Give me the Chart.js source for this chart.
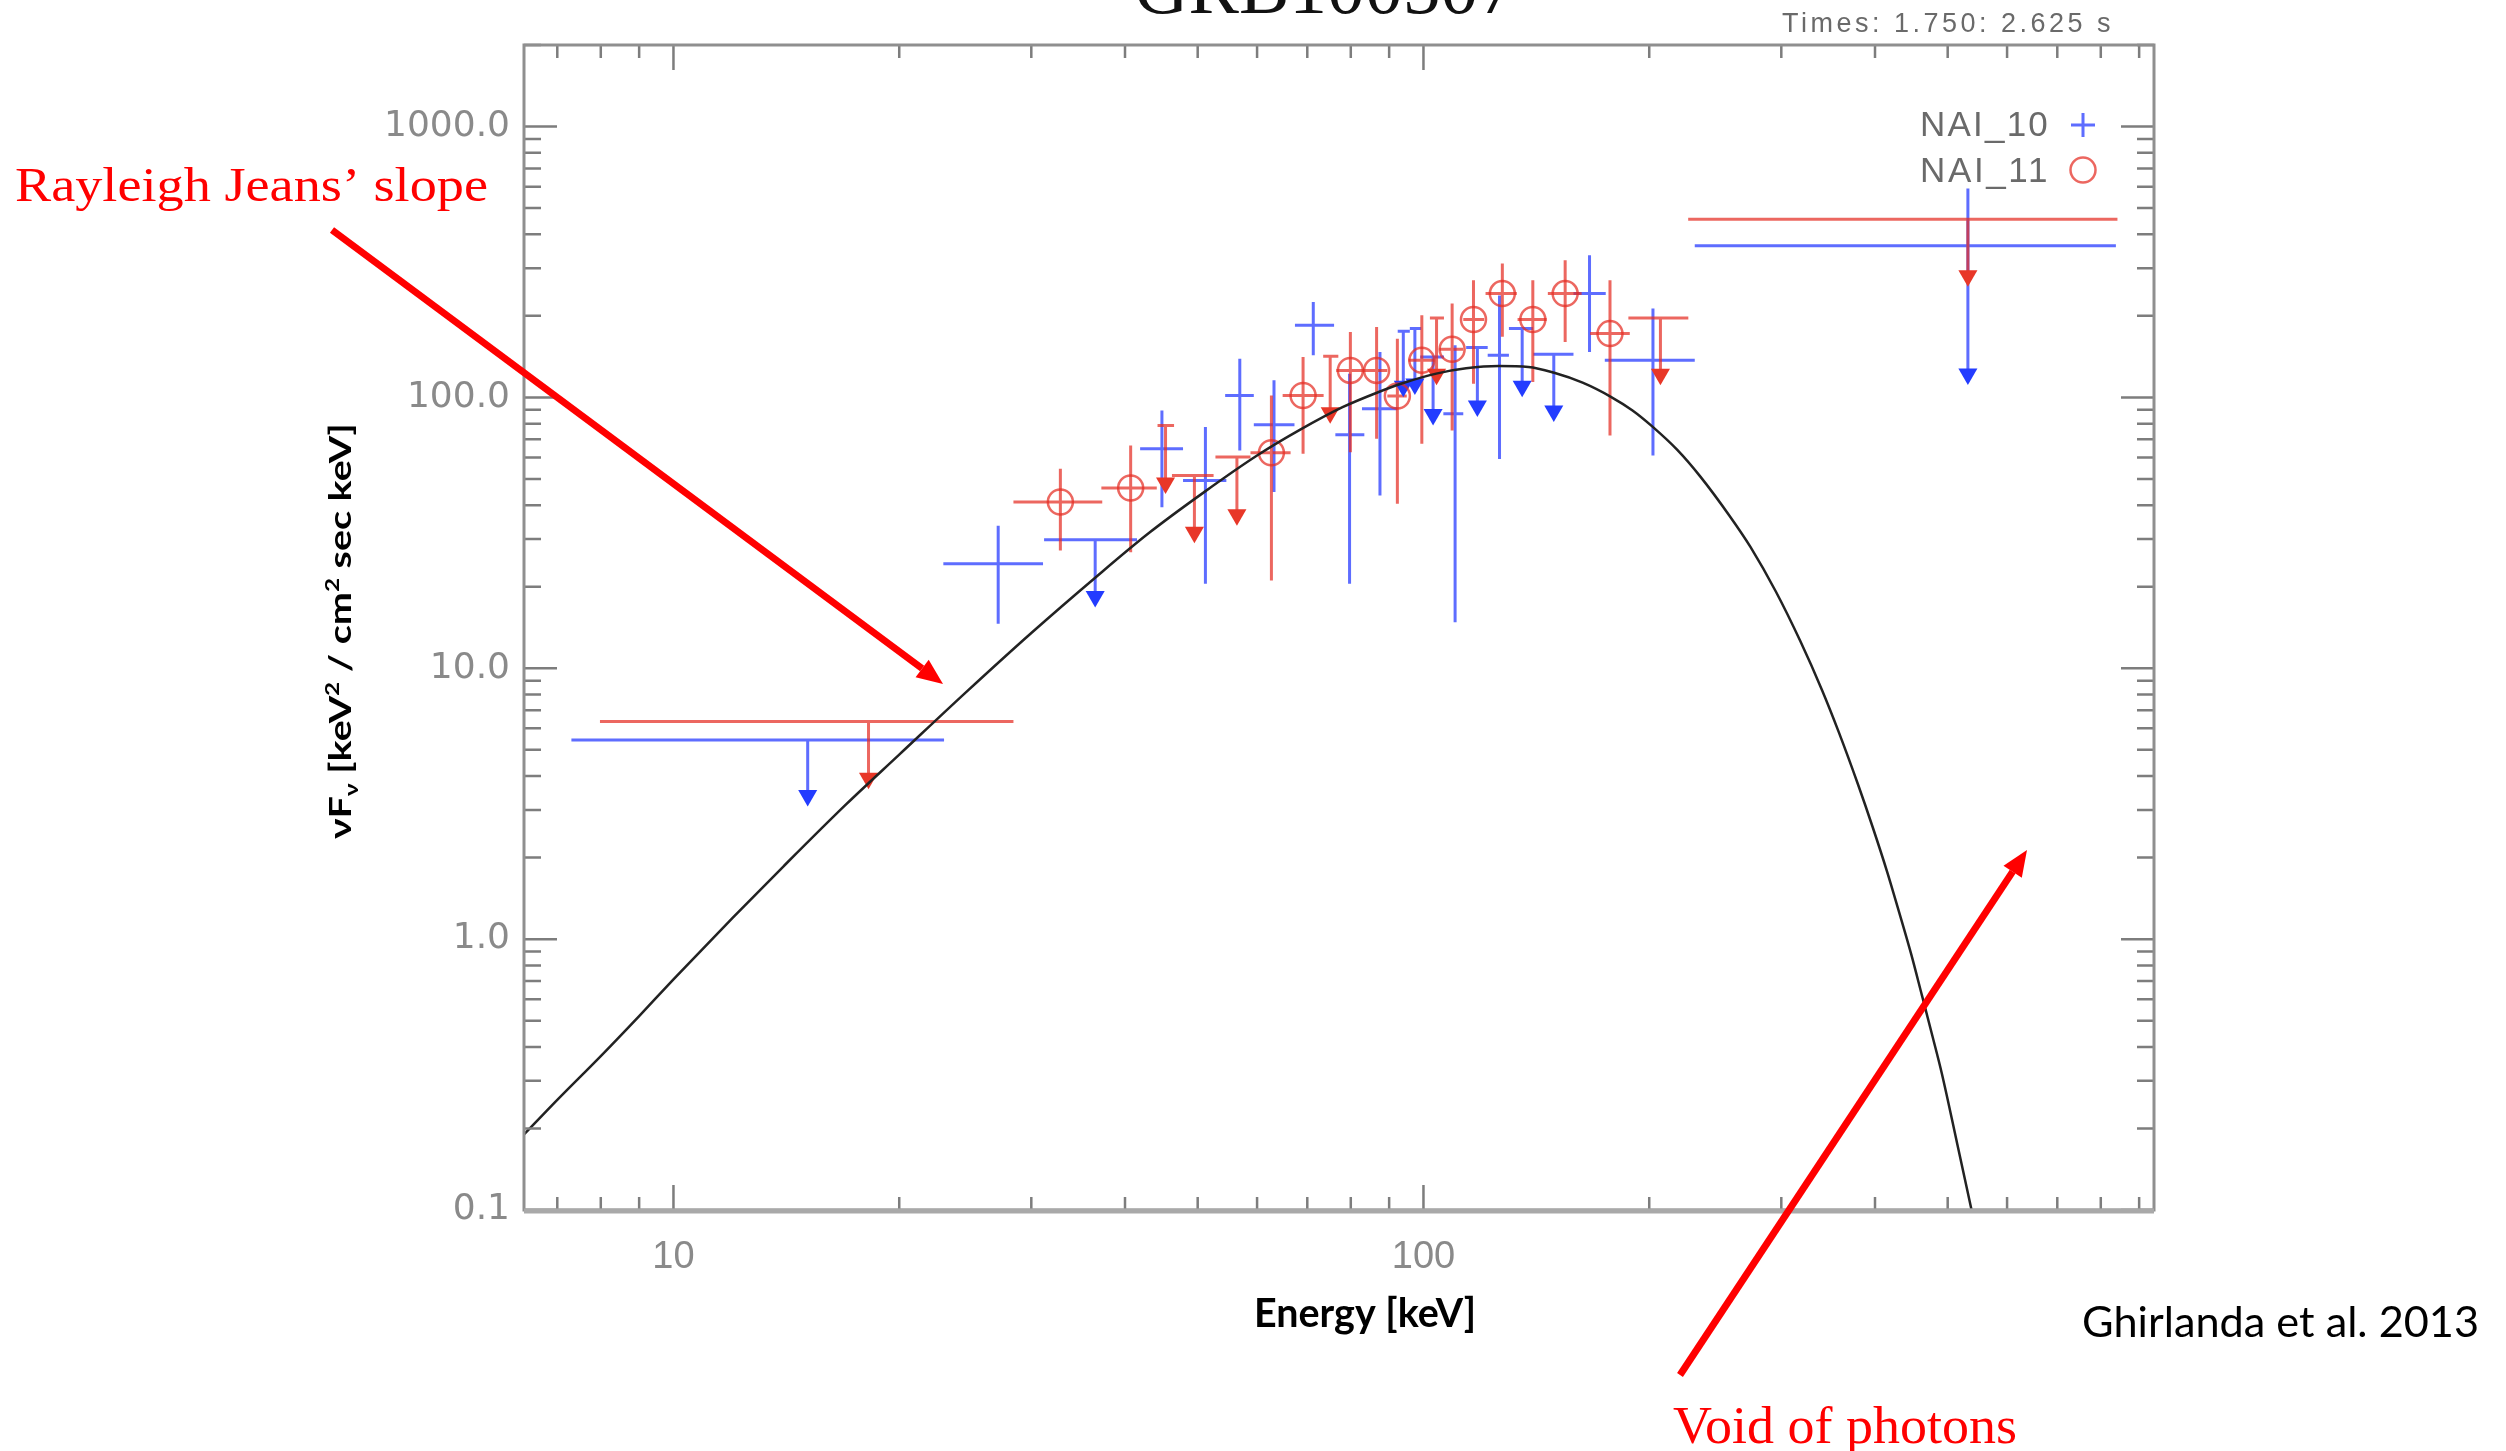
<!DOCTYPE html>
<html>
<head>
<meta charset="utf-8">
<title>GRB100507</title>
<script src="https://cdn.jsdelivr.net/npm/chart.js@4.4.1/dist/chart.umd.min.js"></script>
<style>
  html, body { margin: 0; padding: 0; background: #fff; }
  #wrap { position: relative; width: 2506px; height: 1451px; overflow: hidden; }
  canvas { display: block; }
</style>
</head>
<body>
<div id="wrap"><canvas id="spec" width="2506" height="1451" style="width:2506px;height:1451px"></canvas></div>
<script>
// axis ticks (log axes, IDL style: labels only on the decades)
const xTickVals = [7, 8, 9, 10, 20, 30, 40, 50, 60, 70, 80, 90, 100, 200, 300, 400, 500, 600, 700, 800, 900];
const xMajor = [10, 100];
const xMajorLabels = ['10', '100'];
const yTickVals = [0.1, 0.2, 0.3, 0.4, 0.5, 0.6, 0.7, 0.8, 0.9, 1, 2, 3, 4, 5, 6, 7, 8, 9,
  10, 20, 30, 40, 50, 60, 70, 80, 90, 100, 200, 300, 400, 500, 600, 700, 800, 900, 1000, 2000];
const yMajor = [0.1, 1, 10, 100, 1000];
const yMajorLabels = ['0.1', '1.0', '10.0', '100.0', '1000.0'];

// NAI_10 detections (keV, keV^2/cm^2/s/keV)
const n10E   = [27.1, 44.8, 51.2, 56.9, 63.2, 71.3, 79.7, 87.5, 110.2, 126.3, 166.5, 202.3];
const n10ELo = [22.9, 41.9, 47.8, 54.4, 59.4, 67.4, 76.3, 82.8, 106.3, 121.8, 158.5, 174.5];
const n10EHi = [31.1, 47.8, 54.6, 59.4, 67.3, 76.0, 83.4, 92.3, 113.0, 130.0, 175.0, 230.0];
const n10F   = [24.3, 64.6, 49.3, 101.7, 79.3, 184.6, 72.8, 90.8, 87.1, 143, 241.7, 137];
const n10FLo = [14.6, 39.3, 20.5, 63.7, 44.7, 143, 20.5, 43.4, 14.8, 59.3, 147, 61];
const n10FHi = [33.6, 89.5, 77.8, 139, 115.6, 225, 122.4, 147, 155.7, 238, 335, 212.8];

// NAI_10 upper limits
const n10UlE   = [15.1, 36.5, 94.0, 97.4, 103, 118, 135.4, 149.2, 532];
const n10UlELo = [7.31, 31.2, 92.4, 95.9, 99, 114, 130, 140.1, 230];
const n10UlEHi = [22.95, 41.5, 95.9, 99.3, 106.5, 121.8, 140, 158.5, 838];
const n10UlF   = [5.43, 29.8, 175.4, 179.5, 141, 152.7, 179.5, 144.2, 363];
const n10UlTop = [5.43, 29.8, 175.4, 179.5, 141, 152.7, 179.5, 144.2, 591];
const n10UlEnd = [3.39, 18.4, 110, 112, 86.5, 92.9, 110, 89, 122];

// NAI_11 detections
const n11E   = [32.8, 40.7, 62.7, 69.1, 79.9, 86.6, 92.3, 99.5, 109.2, 116.6, 127.4, 139.9, 154.5, 177.3];
const n11ELo = [28.4, 37.2, 58.8, 64.9, 76.5, 83.3, 89.5, 95.5, 105, 113, 121.0, 133.5, 146.5, 166.8];
const n11EHi = [37.3, 44.1, 66.5, 73.6, 83.3, 89.5, 95.0, 103.5, 113, 120.5, 133.2, 146, 162.5, 188.4];
const n11F   = [41.1, 46.3, 62.5, 101.7, 125.8, 125.8, 101.2, 137, 150.5, 194, 241.7, 194, 241.7, 172];
const n11FLo = [27.2, 26.8, 21.1, 61.9, 62.8, 70.4, 40.5, 67.4, 75.5, 112.4, 167.3, 114, 160, 72.4];
const n11FHi = [54.5, 66.5, 101.7, 141, 174.5, 182, 164.8, 201, 222, 270.8, 312, 270.8, 321, 270.8];

// NAI_11 upper limits
const n11UlE   = [18.2, 45.3, 49.5, 56.4, 75.1, 104.1, 207, 532];
const n11UlELo = [7.98, 44.2, 46.2, 52.8, 73.5, 102, 187.6, 225.4];
const n11UlEHi = [28.4, 46.5, 52.5, 58.8, 77, 106.5, 225.5, 842];
const n11UlF   = [6.36, 78.8, 51.5, 60.2, 142, 196.6, 196.6, 455];
const n11UlEnd = [3.93, 48.3, 31.8, 36.9, 87.8, 121.7, 121.7, 281];

// black body model curve
const modelE = [6.32, 7, 8, 9, 10, 12, 14, 17, 20, 24.6, 30, 36.5, 43, 51, 60, 68.5, 78, 87, 94, 104, 114, 126,
  138, 149, 163, 178, 190, 202, 218, 234, 256, 273, 295, 318, 340, 358, 380, 397, 415, 431, 447, 462, 477, 491, 515, 538];
const modelF = [0.19, 0.255, 0.37, 0.52, 0.71, 1.2, 1.85, 3.15, 4.8, 8.2, 13.5, 21.6, 31.5, 44.7, 61, 76, 92, 104.5, 113, 122.4, 128, 130.5,
  129.5, 123.5, 113.3, 100.3, 89.5, 78, 64, 51, 36.5, 28, 19.2, 12.6, 8.3, 5.8, 3.7, 2.6, 1.78, 1.25, 0.88, 0.62, 0.44, 0.32, 0.175, 0.1];

const BLUE = 'rgb(35,60,255)';
const BLUE_BAR = 'rgba(40,60,255,0.75)';
const RED = 'rgb(232,55,40)';
const RED_BAR = 'rgba(228,45,35,0.72)';

function pts(xs, ys) {
  return xs.map((v, i) => ({x: v, y: ys[i]}));
}

function labelFor(value, majors, labels) {
  const i = majors.findIndex(m => Math.abs(m - value) < 1e-9 * m);
  return i >= 0 ? labels[i] : '';
}

// error bars and upper-limit arrows, drawn through the chart scales
const errorBars = {
  id: 'errorBars',
  beforeDatasetsDraw(chart) {
    const {ctx, chartArea: a, scales: {x, y}} = chart;
    ctx.save();
    ctx.beginPath();
    ctx.rect(a.left, a.top, a.width, a.height);
    ctx.clip();
    ctx.lineWidth = 3;
    ctx.lineCap = 'butt';

    function bars(E, ELo, EHi, F, FLo, FHi, color) {
      ctx.strokeStyle = color;
      for (let i = 0; i < E.length; i++) {
        const px = x.getPixelForValue(E[i]), py = y.getPixelForValue(F[i]);
        ctx.beginPath();
        ctx.moveTo(x.getPixelForValue(ELo[i]), py);
        ctx.lineTo(x.getPixelForValue(EHi[i]), py);
        ctx.moveTo(px, y.getPixelForValue(FLo[i]));
        ctx.lineTo(px, y.getPixelForValue(FHi[i]));
        ctx.stroke();
      }
    }
    function limits(E, ELo, EHi, F, Top, End, color) {
      ctx.strokeStyle = color;
      for (let i = 0; i < E.length; i++) {
        const px = x.getPixelForValue(E[i]), py = y.getPixelForValue(F[i]);
        ctx.beginPath();
        ctx.moveTo(x.getPixelForValue(ELo[i]), py);
        ctx.lineTo(x.getPixelForValue(EHi[i]), py);
        ctx.moveTo(px, y.getPixelForValue(Top ? Top[i] : F[i]));
        ctx.lineTo(px, y.getPixelForValue(End[i]));
        ctx.stroke();
      }
    }
    bars(n10E, n10ELo, n10EHi, n10F, n10FLo, n10FHi, BLUE_BAR);
    limits(n10UlE, n10UlELo, n10UlEHi, n10UlF, n10UlTop, n10UlEnd, BLUE_BAR);
    bars(n11E, n11ELo, n11EHi, n11F, n11FLo, n11FHi, RED_BAR);
    limits(n11UlE, n11UlELo, n11UlEHi, n11UlF, null, n11UlEnd, RED_BAR);
    ctx.restore();
  }
};

// box round the plot with inward ticks on all four sides
const frame = {
  id: 'frame',
  afterDraw(chart) {
    const {ctx, chartArea: a, scales: {x, y}} = chart;
    ctx.save();
    ctx.strokeStyle = '#7d7d7d';
    ctx.lineWidth = 2.5;
    ctx.beginPath();
    x.ticks.forEach(t => {
      const px = x.getPixelForValue(t.value);
      const len = labelFor(t.value, xMajor, xMajorLabels) ? 25 : 13;
      ctx.moveTo(px, a.bottom); ctx.lineTo(px, a.bottom - len);
      ctx.moveTo(px, a.top); ctx.lineTo(px, a.top + len);
    });
    y.ticks.forEach(t => {
      const py = y.getPixelForValue(t.value);
      const len = labelFor(t.value, yMajor, yMajorLabels) ? 33 : 17;
      ctx.moveTo(a.left, py); ctx.lineTo(a.left + len, py);
      ctx.moveTo(a.right, py); ctx.lineTo(a.right - len, py);
    });
    ctx.stroke();
    ctx.strokeStyle = '#8f8f8f';
    ctx.lineWidth = 3;
    ctx.strokeRect(a.left, a.top, a.width, a.height);
    ctx.strokeStyle = '#a9a9a9';
    ctx.lineWidth = 5;
    ctx.beginPath(); ctx.moveTo(a.left, a.bottom + 1); ctx.lineTo(a.right, a.bottom + 1); ctx.stroke();
    ctx.restore();
  }
};

function fitText(ctx, text, x, y, width, font, color, align) {
  ctx.save();
  ctx.font = font;
  ctx.fillStyle = color;
  ctx.textBaseline = 'alphabetic';
  ctx.textAlign = 'left';
  const w = ctx.measureText(text).width;
  const k = width / w;
  const x0 = align === 'right' ? x - width : (align === 'center' ? x - width / 2 : x);
  ctx.translate(x0, y);
  ctx.scale(k, 1);
  ctx.fillText(text, 0, 0);
  ctx.restore();
}

function spacedText(ctx, text, xRight, y, width, font, color) {
  ctx.save();
  ctx.font = font;
  ctx.fillStyle = color;
  ctx.textBaseline = 'alphabetic';
  ctx.textAlign = 'left';
  const w = ctx.measureText(text).width;
  if ('letterSpacing' in ctx) {
    ctx.letterSpacing = ((width - w) / text.length).toFixed(2) + 'px';
    ctx.fillText(text, xRight - width, y);
  } else {
    ctx.translate(xRight - width, y);
    ctx.scale(width / w, 1);
    ctx.fillText(text, 0, 0);
  }
  ctx.restore();
}

function arrow(ctx, x1, y1, x2, y2) {
  const ang = Math.atan2(y2 - y1, x2 - x1);
  const head = 26, half = 11;
  const bx = x2 - head * Math.cos(ang), by = y2 - head * Math.sin(ang);
  ctx.strokeStyle = '#ff0000';
  ctx.fillStyle = '#ff0000';
  ctx.lineWidth = 7;
  ctx.beginPath(); ctx.moveTo(x1, y1); ctx.lineTo(bx, by); ctx.stroke();
  ctx.beginPath();
  ctx.moveTo(x2, y2);
  ctx.lineTo(bx + half * Math.sin(ang), by - half * Math.cos(ang));
  ctx.lineTo(bx - half * Math.sin(ang), by + half * Math.cos(ang));
  ctx.closePath();
  ctx.fill();
}

// y title with sub/superscripts, rotated
function yTitle(ctx, cx, cy, length) {
  const big = 'bold 31px Lato', small = 'bold 19px Lato';
  const segs = [
    {t: 'νF', f: big, dy: 0},
    {t: 'ν', f: small, dy: 7},
    {t: ' [keV', f: big, dy: 0},
    {t: '2', f: small, dy: -12},
    {t: ' / cm', f: big, dy: 0},
    {t: '2', f: small, dy: -12},
    {t: ' sec keV]', f: big, dy: 0}
  ];
  ctx.save();
  let total = 0;
  segs.forEach(s => { ctx.font = s.f; s.w = ctx.measureText(s.t).width; total += s.w; });
  ctx.translate(cx, cy);
  ctx.rotate(-Math.PI / 2);
  ctx.scale(length / total, 1);
  ctx.fillStyle = '#000';
  ctx.textBaseline = 'alphabetic';
  let xx = -total / 2;
  segs.forEach(s => { ctx.font = s.f; ctx.fillText(s.t, xx, 11 + s.dy); xx += s.w; });
  ctx.restore();
}

const annotations = {
  id: 'annotations',
  afterDraw(chart) {
    const ctx = chart.ctx;
    // title, cut at the top of the page
    fitText(ctx, 'GRB100507', 1325, 13, 382, '76px "Liberation Serif"', '#111', 'center');
    spacedText(ctx, 'Times: 1.750: 2.625 s', 2114, 32, 332, '27px "Liberation Sans"', '#6a6a6a');

    // legend
    spacedText(ctx, 'NAI_10', 2050, 136, 130, '35px "Liberation Sans"', '#6a6a6a');
    spacedText(ctx, 'NAI_11', 2050, 182, 130, '35px "Liberation Sans"', '#6a6a6a');
    ctx.save();
    ctx.lineWidth = 3;
    ctx.strokeStyle = BLUE_BAR;
    ctx.beginPath();
    ctx.moveTo(2071, 125); ctx.lineTo(2095, 125);
    ctx.moveTo(2083, 113); ctx.lineTo(2083, 137);
    ctx.stroke();
    ctx.strokeStyle = RED_BAR;
    ctx.lineWidth = 2.5;
    ctx.beginPath(); ctx.arc(2083, 170, 12.5, 0, Math.PI * 2); ctx.stroke();
    ctx.restore();

    yTitle(ctx, 340, 631, 416);
    fitText(ctx, 'Energy [keV]', 1365, 1327, 222, 'bold 40px Lato', '#000', 'center');

    // red notes
    fitText(ctx, 'Rayleigh Jeans’ slope', 15, 201, 473, '48px "Liberation Serif"', '#ff0000', 'left');
    arrow(ctx, 332, 230, 943, 684);
    fitText(ctx, 'Void of photons', 1673, 1443, 344, '52px "Liberation Serif"', '#ff0000', 'left');
    arrow(ctx, 1680, 1375, 2027, 850);
    fitText(ctx, 'Ghirlanda et al. 2013', 2082, 1337, 397, '42px Lato', '#000', 'left');
  }
};

const chart = new Chart(document.getElementById('spec'), {
  type: 'scatter',
  data: {
    datasets: [
      {
        label: 'model',
        data: pts(modelE, modelF),
        showLine: true,
        borderColor: '#222',
        borderWidth: 2.5,
        pointRadius: 0,
        cubicInterpolationMode: 'monotone'
      },
      {
        label: 'NAI_10',
        data: pts(n10E, n10F),
        pointStyle: 'cross',
        pointRadius: 0,
        borderColor: BLUE_BAR
      },
      {
        label: 'NAI_11',
        data: pts(n11E, n11F),
        pointStyle: 'circle',
        pointRadius: 12.5,
        borderWidth: 2.5,
        borderColor: RED_BAR,
        backgroundColor: 'rgba(0,0,0,0)'
      },
      {
        label: 'NAI_10 upper limits',
        data: pts(n10UlE, n10UlEnd),
        pointStyle: 'triangle',
        rotation: 180,
        pointRadius: 11,
        borderWidth: 0,
        backgroundColor: BLUE
      },
      {
        label: 'NAI_11 upper limits',
        data: pts(n11UlE, n11UlEnd),
        pointStyle: 'triangle',
        rotation: 180,
        pointRadius: 11,
        borderWidth: 0,
        backgroundColor: RED
      }
    ]
  },
  options: {
    responsive: false,
    animation: false,
    devicePixelRatio: 1,
    layout: {padding: {left: 0, top: 45, right: 352, bottom: 0}},
    plugins: {legend: {display: false}, tooltip: {enabled: false}},
    scales: {
      x: {
        type: 'logarithmic',
        position: 'bottom',
        min: 6.32,
        max: 942,
        afterBuildTicks: s => { s.ticks = xTickVals.map(v => ({value: v})); },
        afterFit: s => { s.height = 241; },
        grid: {display: false, drawTicks: false},
        border: {display: false},
        ticks: {
          autoSkip: false,
          maxRotation: 0,
          padding: 25,
          color: '#8a8a8a',
          font: {family: 'Liberation Sans', size: 38},
          callback: v => labelFor(v, xMajor, xMajorLabels)
        }
      },
      y: {
        type: 'logarithmic',
        position: 'left',
        min: 0.1,
        max: 2000,
        afterBuildTicks: s => { s.ticks = yTickVals.map(v => ({value: v})); },
        afterFit: s => { s.width = 524; },
        grid: {display: false, drawTicks: false},
        border: {display: false},
        ticks: {
          autoSkip: false,
          padding: 14,
          color: '#8a8a8a',
          font: {family: 'DejaVu Sans', size: 36},
          callback: v => labelFor(v, yMajor, yMajorLabels)
        }
      }
    }
  },
  plugins: [errorBars, frame, annotations]
});
</script>
</body>
</html>
